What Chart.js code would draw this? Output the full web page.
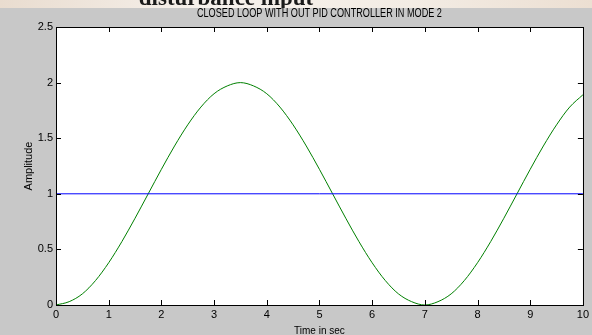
<!DOCTYPE html>
<html><head><meta charset="utf-8">
<script src="https://cdn.jsdelivr.net/npm/chart.js@4.4.1/dist/chart.umd.min.js"></script>
<style>html,body{margin:0;padding:0;background:#c8c8c8;overflow:hidden}canvas{display:block}</style>
</head><body><canvas id="c" width="592" height="335"></canvas>
<script>
// ---- data ----
const timeSec = [0,0.25,0.5,0.75,1,1.25,1.5,1.75,2,2.25,2.5,2.75,3,3.25,3.5,3.75,4,4.25,4.5,4.75,5,5.25,5.5,5.75,6,6.25,6.5,6.75,7,7.25,7.5,7.75,8,8.25,8.5,8.75,9,9.25,9.5,9.75,10];
const outputAmplitude = [0,0.03,0.10,0.22,0.38,0.57,0.78,1.0,1.22,1.43,1.62,1.78,1.90,1.97,2.0,1.97,1.90,1.78,1.62,1.43,1.22,1.0,0.78,0.57,0.38,0.22,0.10,0.03,0,0.03,0.10,0.22,0.38,0.57,0.78,1.0,1.22,1.43,1.62,1.78,1.89];
const inputTime = [0,10];
const inputAmplitude = [1,1];
const xTickValues = [0,1,2,3,4,5,6,7,8,9,10];
const yTickValues = [0,0.5,1,1.5,2,2.5];
const chartTitle = 'CLOSED LOOP WITH OUT PID CONTROLLER IN MODE 2';
const xAxisLabel = 'Time in sec';
const yAxisLabel = 'Amplitude';
const pageCaption = 'disturbance input';

// ---- font detection ----
function hasFont(n){
  const c=document.createElement('canvas').getContext('2d');
  const s='abcdefghij0123456789';
  c.font='40px monospace'; const a=c.measureText(s).width;
  c.font='40px "'+n+'", monospace'; const b=c.measureText(s).width;
  return a!==b;
}
let tickFamily='"Liberation Sans", Arial, sans-serif', tickSize=11;
if (hasFont('Liberation Sans Narrow')) { tickFamily='"Liberation Sans Narrow", sans-serif'; tickSize=12; }

const greenPts = timeSec.map((t,i)=>({x:t,y:outputAmplitude[i]}));
const bluePts = inputTime.map((t,i)=>({x:t,y:inputAmplitude[i]}));

const decor = {
  id:'decor',
  beforeDraw(chart){
    const {ctx, chartArea:a, width} = chart;
    ctx.save();
    ctx.fillStyle='#c8c8c8'; ctx.fillRect(0,0,width,chart.height);
    const g=ctx.createLinearGradient(0,0,width,0);
    g.addColorStop(0,'#e9dccf'); g.addColorStop(0.35,'#f6f1ec'); g.addColorStop(0.7,'#f3ece4'); g.addColorStop(1,'#ecdfd2');
    ctx.fillStyle=g; ctx.fillRect(0,0,width,8);
    ctx.beginPath(); ctx.rect(0,0,width,8); ctx.clip();
    ctx.fillStyle='#1a1a1a'; ctx.font='bold 23px "Liberation Serif", "DejaVu Serif", serif';
    ctx.textAlign='center'; ctx.textBaseline='alphabetic';
    ctx.fillText(pageCaption, 226, 5);
    ctx.restore();
    ctx.save();
    ctx.fillStyle='#ffffff'; ctx.fillRect(a.left,a.top,a.right-a.left,a.bottom-a.top);
    // title
    ctx.font='12px "Liberation Sans", Arial, sans-serif';
    const w=ctx.measureText(chartTitle).width;
    ctx.translate((a.left+a.right)/2, 14);
    ctx.scale(245/w,1);
    ctx.fillStyle='#000'; ctx.textAlign='center'; ctx.textBaseline='middle';
    ctx.fillText(chartTitle,0,0);
    ctx.restore();
  },
  afterDraw(chart){
    const {ctx, chartArea:a, scales} = chart;
    ctx.save();
    ctx.strokeStyle='#000'; ctx.lineWidth=1;
    ctx.strokeRect(Math.round(a.left)+0.5, Math.round(a.top)+0.5, Math.round(a.right-a.left), Math.round(a.bottom-a.top));
    ctx.beginPath();
    const L=5;
    scales.x.ticks.forEach(t=>{
      const px=Math.round(scales.x.getPixelForValue(t.value))+0.5;
      ctx.moveTo(px,a.bottom); ctx.lineTo(px,a.bottom-L);
      ctx.moveTo(px,a.top); ctx.lineTo(px,a.top+L);
    });
    scales.y.ticks.forEach(t=>{
      const py=Math.round(scales.y.getPixelForValue(t.value))+0.5;
      ctx.moveTo(a.left,py); ctx.lineTo(a.left+L,py);
      ctx.moveTo(a.right,py); ctx.lineTo(a.right-L,py);
    });
    ctx.stroke();
    ctx.restore();
  }
};

new Chart(document.getElementById('c'), {
  type:'line',
  data:{datasets:[
    {data:bluePts, borderColor:'#0000ff', borderWidth:1, pointRadius:0, tension:0},
    {data:greenPts, borderColor:'#008000', borderWidth:1, pointRadius:0, cubicInterpolationMode:'monotone'}
  ]},
  options:{
    responsive:false, animation:false, devicePixelRatio:1,
    layout:{padding:{top:27,right:9,left:0,bottom:0}},
    plugins:{legend:{display:false}, tooltip:{enabled:false}, title:{display:false}},
    scales:{
      x:{type:'linear', min:0, max:10,
        afterBuildTicks:s=>{s.ticks=xTickValues.map(v=>({value:v}));},
        afterFit:s=>{s.height=30;},
        grid:{display:false, drawTicks:false},
        border:{display:false},
        ticks:{color:'#000', padding:3, maxRotation:0, autoSkip:false, font:{family:tickFamily,size:tickSize}, callback:v=>String(v)},
        title:{display:true, text:xAxisLabel, color:'#000', font:{family:tickFamily,size:10,lineHeight:0.8}, padding:{top:0,bottom:0}}
      },
      y:{type:'linear', min:0, max:2.5,
        afterBuildTicks:s=>{s.ticks=yTickValues.map(v=>({value:v}));},
        afterFit:s=>{s.width=56;},
        grid:{display:false, drawTicks:false},
        border:{display:false},
        ticks:{color:'#000', padding:3, autoSkip:false, font:{family:tickFamily,size:tickSize}, callback:v=>String(v)},
        title:{display:true, text:yAxisLabel, color:'#000', font:{family:tickFamily,size:11,lineHeight:1}, padding:{top:23,bottom:0}}
      }
    }
  },
  plugins:[decor]
});
</script>
</body></html>
